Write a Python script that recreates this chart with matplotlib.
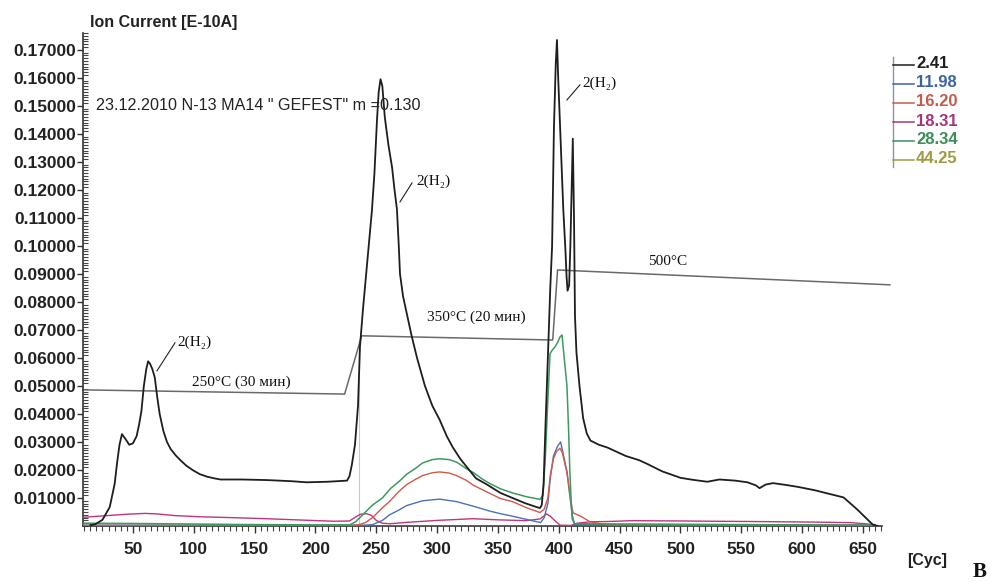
import matplotlib
matplotlib.use("Agg")
import matplotlib.pyplot as plt
from matplotlib.ticker import MultipleLocator, FixedLocator
from matplotlib.lines import Line2D

# ---- data: ion current vs. cycle number for each mass channel ----
x_241 = [15, 19, 25, 31, 35, 37, 39, 41, 44, 47, 50, 53, 55, 57, 59, 61, 62.5, 64, 66, 68,
         70, 72, 75, 78, 81, 85, 89, 94, 99, 105, 111, 117, 122, 140, 160, 180, 193, 210,
         226, 228, 230, 232.5, 235, 236.6, 239, 243, 246.5, 248.5, 250.6, 252, 253.5, 255,
         257, 260, 263, 265, 267, 268.5, 269.5, 272, 275, 279, 283.5, 290, 296, 302, 308,
         313, 319, 324.5, 332, 341, 352, 362, 372, 380, 384.5, 386, 387.5, 389, 391, 393,
         394.5, 396, 397.5, 398.5, 399.5, 401, 403.7, 405.5, 406.4, 407.2, 408.5, 409.5,
         410.5, 411.5, 412.5, 413.3, 414.5, 417, 420, 423, 426, 433, 440, 445, 455, 466,
         472.5, 485, 500, 510, 522, 532, 545, 555, 562, 565, 570, 576, 586, 596, 610, 622,
         634, 645, 658, 662]
y_241 = [0.0003, 0.0006, 0.0022, 0.0068, 0.015, 0.0225, 0.029, 0.0328, 0.031, 0.029,
         0.0295, 0.032, 0.036, 0.041, 0.050, 0.056, 0.0588, 0.058, 0.056, 0.053,
         0.046, 0.040, 0.034, 0.030, 0.0275, 0.0253, 0.0235, 0.0215, 0.0200, 0.0185,
         0.0176, 0.0170, 0.0166, 0.0166, 0.0164, 0.0160, 0.0156, 0.0158,
         0.0162, 0.0178, 0.0220, 0.029, 0.043, 0.064, 0.077, 0.096, 0.113, 0.126, 0.145,
         0.155, 0.1595, 0.157, 0.146, 0.136, 0.128, 0.120, 0.113, 0.100, 0.090, 0.082,
         0.076, 0.068, 0.060, 0.050, 0.043, 0.038, 0.032, 0.028, 0.024, 0.021, 0.017,
         0.0148, 0.0118, 0.0100, 0.0082, 0.0070, 0.0064, 0.0075, 0.015, 0.035, 0.060,
         0.085, 0.100, 0.142, 0.165, 0.1735, 0.160, 0.143, 0.113, 0.098, 0.089, 0.0840,
         0.086, 0.100, 0.120, 0.1383, 0.110, 0.075, 0.062, 0.050, 0.0385, 0.0330, 0.0305,
         0.0290, 0.0280, 0.0270, 0.0250, 0.0235, 0.0222, 0.0195, 0.0172, 0.0165, 0.0158,
         0.0166, 0.0162, 0.0156, 0.0145, 0.0135, 0.0148, 0.0153, 0.0147, 0.0140, 0.0128,
         0.0115, 0.0102, 0.0060, 0.0005, 0.0]

x_2834 = [9, 50, 100, 150, 200, 228, 233, 240, 247, 255, 262, 269, 275, 282, 288, 296, 302,
          310, 316, 324, 330, 337, 344, 352, 362, 373, 384.5, 387, 389, 391, 392.8, 395,
          397, 399, 401, 402.6, 404, 406.7, 408, 409, 410, 411, 413, 450, 550, 660]
y_2834 = [0.0010, 0.0009, 0.0007, 0.0005, 0.0004, 0.0004, 0.0015, 0.0045, 0.0075, 0.0100,
          0.0135, 0.0160, 0.0185, 0.0205, 0.0225, 0.0237, 0.0240, 0.0237, 0.0228, 0.0205,
          0.0190, 0.0168, 0.0150, 0.0133, 0.0118, 0.0105, 0.0095, 0.0110, 0.0250, 0.0450,
          0.0616, 0.0630, 0.0640, 0.0655, 0.0675, 0.0682, 0.0620, 0.0500, 0.0350, 0.0205,
          0.0100, 0.0025, 0.0008, 0.0007, 0.0005, 0.0003]

x_1620 = [9, 230, 236, 241, 247, 255, 261, 269, 275, 282, 288, 296, 302, 310, 316, 324, 330,
          344, 352, 362, 373, 384.5, 388, 391, 393, 395.6, 398, 401, 403, 406.7, 409, 411,
          412, 418, 425.6, 440, 660]
y_1620 = [0.0002, 0.0002, 0.0005, 0.0012, 0.0030, 0.0065, 0.0088, 0.0125, 0.0148, 0.0166,
          0.0180, 0.0190, 0.0193, 0.0189, 0.0180, 0.0163, 0.0145, 0.0115, 0.0098, 0.0087,
          0.0066, 0.0048, 0.0060, 0.0100, 0.0180, 0.0240, 0.0265, 0.0278, 0.0260, 0.0190,
          0.0120, 0.0060, 0.0046, 0.0035, 0.0015, 0.0004, 0.0002]

x_1198 = [9, 240, 247, 255, 261, 269, 275, 288, 302, 316, 329.5, 343.5, 352, 362, 379, 385,
          388, 391, 393, 395.6, 399, 401.5, 403, 406.7, 409, 411, 413, 660]
y_1198 = [0.0003, 0.0003, 0.0005, 0.0020, 0.0040, 0.0058, 0.0073, 0.0090, 0.0096, 0.0087,
          0.0071, 0.0053, 0.0044, 0.0035, 0.0018, 0.0012, 0.0030, 0.0080, 0.0170, 0.0250,
          0.0285, 0.0300, 0.0270, 0.0195, 0.0110, 0.0040, 0.0006, 0.0003]

x_1831 = [9, 25, 45, 60, 70, 85, 105, 130, 160, 190, 215, 228, 233, 237, 242, 246, 250, 255,
          261, 275, 300, 329.5, 350, 373, 384.5, 390, 393, 396, 401, 410, 415, 426, 440, 460,
          500, 526, 560, 608, 640, 660]
y_1831 = [0.0031, 0.0036, 0.0042, 0.0045, 0.0043, 0.0037, 0.0033, 0.0030, 0.0026, 0.0021,
          0.0017, 0.0018, 0.0032, 0.0042, 0.0044, 0.0038, 0.0020, 0.0010, 0.0008, 0.0013,
          0.0020, 0.0026, 0.0022, 0.0019, 0.0025, 0.0043, 0.0035, 0.0022, 0.0003, 0.0002,
          0.0010, 0.0015, 0.0016, 0.0019, 0.0018, 0.0017, 0.0016, 0.0014, 0.0012, 0.0005]

x_4425 = [9, 660]
y_4425 = [0.0001, 0.0001]

# furnace temperature programme (relative trace)
temp_x = [9, 224, 238, 395, 399, 672]
temp_y = [0.0486, 0.0471, 0.0679, 0.0664, 0.0914, 0.0861]

legend_labels = ["2.41", "11.98", "16.20", "18.31", "28.34", "44.25"]
y_ticks = [0.01, 0.02, 0.03, 0.04, 0.05, 0.06, 0.07, 0.08, 0.09, 0.10,
           0.11, 0.12, 0.13, 0.14, 0.15, 0.16, 0.17]
x_ticks = [50, 100, 150, 200, 250, 300, 350, 400, 450, 500, 550, 600, 650]

# ---- styling ----
from matplotlib import font_manager
available = {f.name for f in font_manager.fontManager.ttflist}
SANS = "Liberation Sans" if "Liberation Sans" in available else "DejaVu Sans"
SERIF = ["Liberation Serif", "DejaVu Serif"]

c_black = "#1e1e1e"
c_blue = "#4a72b5"
c_red = "#d4584a"
c_mag = "#c2357a"
c_green = "#3c9b5c"
c_olive = "#a89c3c"
c_temp = "#6a6a6a"

W, H = 994, 581
fig = plt.figure(figsize=(W / 100, H / 100), dpi=100)
fig.patch.set_facecolor("white")

def fx(px):
    return px / W

def fy(py):
    return 1 - py / H

ax = fig.add_axes([fx(83), fy(526), fx(882) - fx(83), fy(33) - fy(526)])
ax.set_xlim(9, 665.6)
ax.set_ylim(0, 0.176)

# faint vertical guide
ax.plot([235.5, 235.5], [0, 0.066], color="#c8c8c8", lw=0.8, zorder=1)

ax.plot(temp_x, temp_y, color=c_temp, lw=1.1, zorder=2, clip_on=False)
ax.plot(x_4425, y_4425, color=c_olive, lw=1.0, zorder=3)
ax.plot(x_1831, y_1831, color=c_mag, lw=1.0, zorder=4)
ax.plot(x_1198, y_1198, color=c_blue, lw=1.0, zorder=5)
ax.plot(x_1620, y_1620, color=c_red, lw=1.0, zorder=6)
ax.plot(x_2834, y_2834, color=c_green, lw=1.1, zorder=7)
ax.plot(x_241, y_241, color=c_black, lw=1.3, zorder=8)

for s in ("top", "right"):
    ax.spines[s].set_visible(False)
for s in ("left", "bottom"):
    ax.spines[s].set_color("#333333")
    ax.spines[s].set_linewidth(1.2)

ax.yaxis.set_major_locator(FixedLocator(y_ticks))
ax.yaxis.set_minor_locator(MultipleLocator(0.001))
ax.set_yticklabels([f"{v:.5f}" for v in y_ticks])
ax.xaxis.set_major_locator(FixedLocator(x_ticks))
ax.xaxis.set_minor_locator(MultipleLocator(5))
ax.set_xticklabels([str(v) for v in x_ticks])

ax.tick_params(axis="y", which="major", direction="out", length=4, width=1.0,
               pad=1.0, colors="#333333", labelcolor="#222222")
ax.tick_params(axis="y", which="minor", direction="in", length=3.5, width=0.8,
               colors="#444444")
ax.tick_params(axis="x", which="major", direction="out", length=5, width=1.0,
               pad=6.5, colors="#333333", labelcolor="#222222")
ax.tick_params(axis="x", which="minor", direction="out", length=3.5, width=0.8,
               colors="#444444")
for lab in ax.get_yticklabels() + ax.get_xticklabels():
    lab.set_fontfamily(SANS)
    lab.set_fontweight("bold")
    lab.set_fontsize(12.5)

# ---- annotations ----
ann_kw = dict(family=SERIF, fontsize=11, color="#111111", va="center", ha="left")
ax.plot([69.8, 84.6], [0.0554, 0.0654], color="#222222", lw=0.8)
ax.text(86.3, 0.0657, "2(H₂)", **ann_kw)
ax.plot([269.5, 279.4], [0.1157, 0.1225], color="#222222", lw=0.8)
ax.text(282.7, 0.1229, "2(H₂)", **ann_kw)
ax.plot([406.7, 417.4], [0.1521, 0.1575], color="#222222", lw=0.8)
ax.text(419.0, 0.1582, "2(H₂)", **ann_kw)
ax.text(98.6, 0.0514, "250°C (30 мин)", **ann_kw)
ax.text(291.7, 0.0746, "350°C (20 мин)", **ann_kw)
ax.text(473.3, 0.0943, "500°C", **ann_kw)

# ---- header texts ----
fig.text(fx(90), fy(22), "Ion Current [E-10A]", family=SANS, fontweight="bold",
         fontsize=11.5, color="#222222", va="center", ha="left")
fig.text(fx(96), fy(105), "23.12.2010 N-13 MA14 \" GEFEST\" m =0.130", family=SANS,
         fontsize=11.6, color="#222222", va="center", ha="left")
fig.text(fx(927), fy(560), "[Cyc]", family=SANS, fontweight="bold", fontsize=11.5,
         color="#222222", va="center", ha="center")
fig.text(fx(980), fy(572), "B", family=SERIF, fontweight="bold", fontsize=15,
         color="#111111", va="center", ha="center")

# ---- channel legend ----
leg_colors = [c_black, "#3b64a8", "#c85a4a", "#a8357a", "#3b8f57", "#a09a40"]
leg_y = [64, 83, 102, 121, 140, 159]
fig.add_artist(Line2D([fx(893), fx(893)], [fy(57), fy(167)], color="#8a94a8", lw=1.0))
for lab, col, py in zip(legend_labels, leg_colors, leg_y):
    fig.add_artist(Line2D([fx(893), fx(914)], [fy(py + 1), fy(py + 1)], color=col, lw=1.1))
    fig.text(fx(916), fy(py), lab, family=SANS, fontweight="bold", fontsize=12,
             color=col, va="center", ha="left")

fig.savefig("out.png", dpi=100, facecolor="white")
